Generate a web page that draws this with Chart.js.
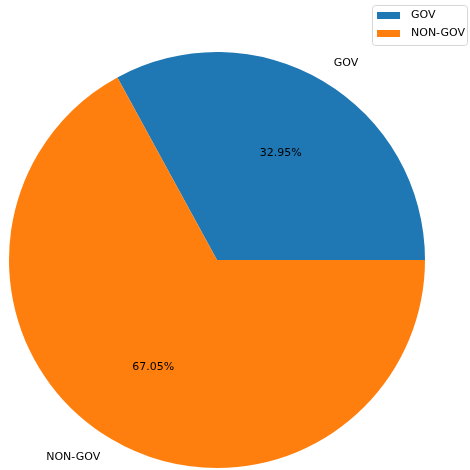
<!DOCTYPE html>
<html>
<head>
<meta charset="utf-8">
<script src="https://cdn.jsdelivr.net/npm/chart.js@4"></script>
<style>
  html, body { margin: 0; padding: 0; background: #fff; }
  #wrap { width: 470px; height: 470px; }
</style>
</head>
<body>
<div id="wrap"><canvas id="pie" width="470" height="470"></canvas></div>
<script>
// data
const categories = ["GOV", "NON-GOV"];
const shares = [32.95, 67.05];
const colors = ["#1f77b4", "#ff7f0e"];

const FONT = "DejaVu Sans, sans-serif";

// matplotlib starts at 3 o'clock and goes counterclockwise,
// chart.js goes clockwise, so start the first slice before 3 o'clock
const total = shares.reduce((a, b) => a + b, 0);
const rotation = 90 - shares[0] / total * 360;

// labels outside (1.1 r) and percentages inside (0.6 r), like autopct
const sliceLabels = {
  id: "sliceLabels",
  afterDatasetsDraw(chart) {
    const ctx = chart.ctx;
    const arcs = chart.getDatasetMeta(0).data;
    ctx.save();
    ctx.font = "11px " + FONT;
    ctx.fillStyle = "#000";
    ctx.textBaseline = "middle";
    arcs.forEach((arc, i) => {
      const mid = (arc.startAngle + arc.endAngle) / 2;
      const r = arc.outerRadius;
      const cx = Math.cos(mid), cy = Math.sin(mid);
      ctx.textAlign = "center";
      ctx.fillText(shares[i].toFixed(2) + "%", arc.x + cx * r * 0.6, arc.y + cy * r * 0.6);
      ctx.textAlign = cx >= 0 ? "left" : "right";
      ctx.fillText(categories[i], arc.x + cx * r * 1.1, arc.y + cy * r * 1.1);
    });
    ctx.restore();
  }
};

// legend box in the top right corner
const cornerLegend = {
  id: "cornerLegend",
  afterDraw(chart) {
    const ctx = chart.ctx;
    ctx.save();
    ctx.strokeStyle = "#d6d6d6";
    ctx.lineWidth = 1;
    ctx.fillStyle = "rgba(255,255,255,0.8)";
    ctx.beginPath();
    ctx.roundRect(372.5, 5.5, 95, 40, 3);
    ctx.fill();
    ctx.stroke();
    ctx.font = "11px " + FONT;
    ctx.textBaseline = "middle";
    ctx.textAlign = "left";
    categories.forEach((c, i) => {
      const y = 15.5 + i * 18;
      ctx.fillStyle = colors[i];
      ctx.fillRect(377, y - 3.5, 23, 7);
      ctx.fillStyle = "#000";
      ctx.fillText(c, 411, y);
    });
    ctx.restore();
  }
};

new Chart(document.getElementById("pie"), {
  type: "pie",
  data: {
    labels: categories,
    datasets: [{
      data: shares,
      backgroundColor: colors,
      borderWidth: 0
    }]
  },
  options: {
    responsive: false,
    animation: false,
    rotation: rotation,
    layout: { padding: { left: 9, right: 45, top: 52, bottom: 2 } },
    plugins: {
      legend: { display: false },
      tooltip: { enabled: false }
    }
  },
  plugins: [sliceLabels, cornerLegend]
});
</script>
</body>
</html>
